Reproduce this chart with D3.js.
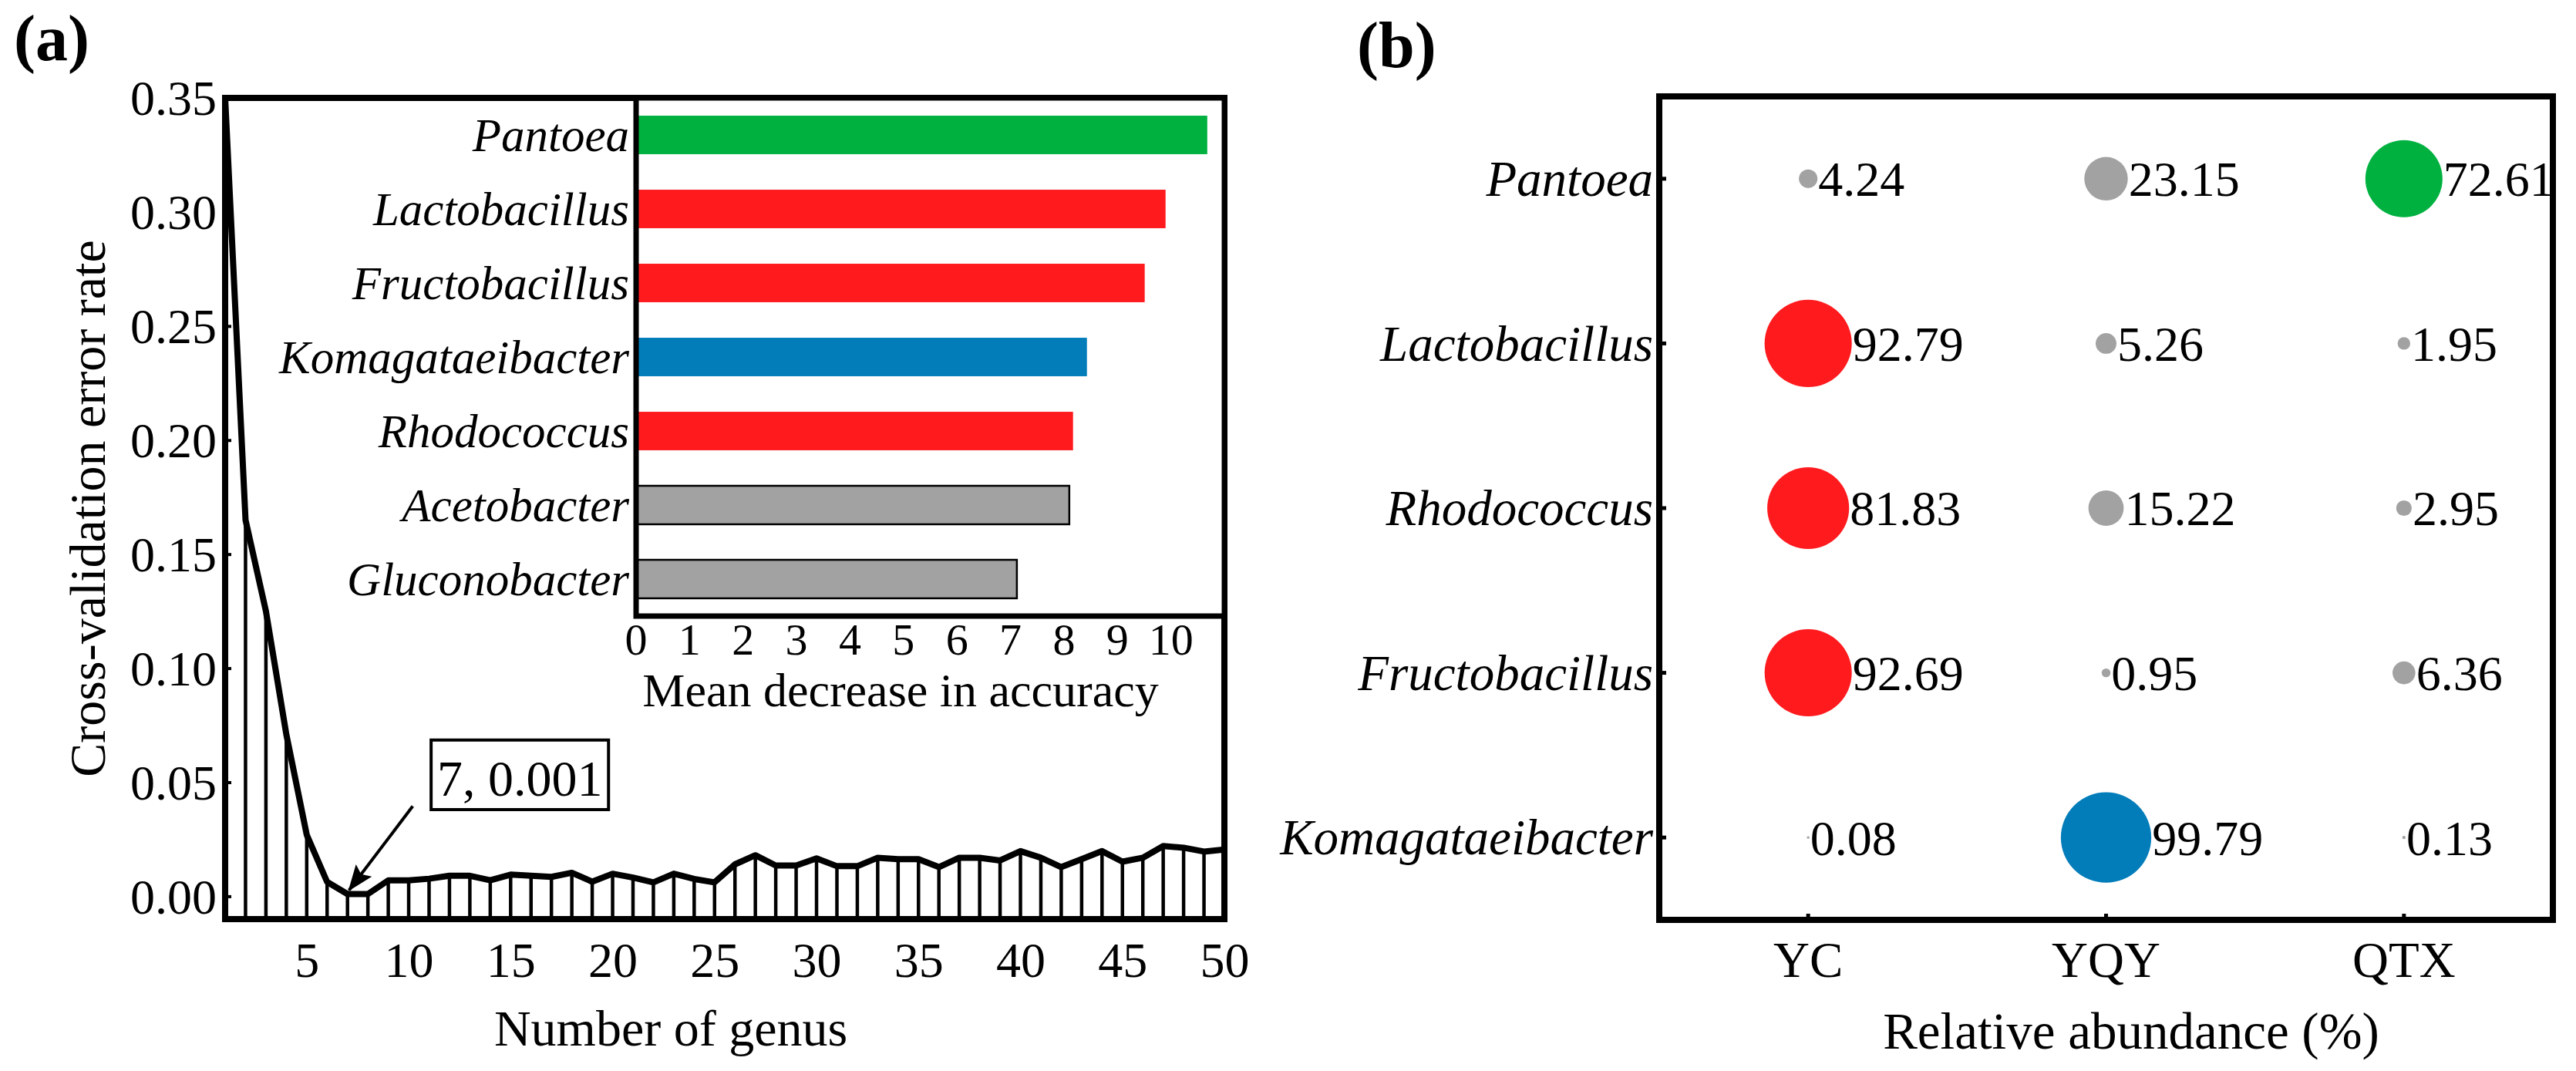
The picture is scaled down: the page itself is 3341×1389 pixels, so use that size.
<!DOCTYPE html>
<html>
<head>
<meta charset="utf-8">
<script src="https://cdn.jsdelivr.net/npm/d3@7"></script>
<style>
body{margin:0;background:#fff}
text{font-family:"Liberation Serif","Times New Roman",serif;fill:#000}
</style>
</head>
<body>
<div id="chart"></div>
<script>
// ---- data ----
// (a) cross-validation error for 1..50 genera
var errorRate = [0.350, 0.165, 0.125, 0.071, 0.027, 0.0063, 0.001, 0.001, 0.007, 0.007,
                 0.0077, 0.009, 0.009, 0.007, 0.0095, 0.009, 0.0085, 0.0103, 0.0064, 0.0099,
                 0.0082, 0.0061, 0.0099, 0.0076, 0.0061, 0.014, 0.018, 0.0135, 0.0135, 0.0166,
                 0.0132, 0.0132, 0.0169, 0.0163, 0.0163, 0.0128, 0.0169, 0.0169, 0.0157, 0.0198,
                 0.0169, 0.0128, 0.0163, 0.0198, 0.0152, 0.0169, 0.022, 0.0213, 0.0196, 0.0205]
var yTicks = [0, 0.05, 0.10, 0.15, 0.20, 0.25, 0.30, 0.35]
var xTicks = [5, 10, 15, 20, 25, 30, 35, 40, 45, 50]

// (a) inset: importance
var impGenus = ["Pantoea", "Lactobacillus", "Fructobacillus", "Komagataeibacter", "Rhodococcus", "Acetobacter", "Gluconobacter"]
var impValue = [10.68, 9.90, 9.51, 8.43, 8.17, 8.10, 7.12]
var impTicks = [0, 1, 2, 3, 4, 5, 6, 7, 8, 9, 10]

// (b) relative abundance
var sites = ["YC", "YQY", "QTX"]
var abGenus = ["Pantoea", "Lactobacillus", "Rhodococcus", "Fructobacillus", "Komagataeibacter"]
var abundYC  = [4.24, 92.79, 81.83, 92.69, 0.08]
var abundYQY = [23.15, 5.26, 15.22, 0.95, 99.79]
var abundQTX = [72.61, 1.95, 2.95, 6.36, 0.13]

var green = "#00b140", red = "#ff1a1e", blue = "#037dba", gray = "#a2a2a2"
var genusColor = {Pantoea: green, Lactobacillus: red, Fructobacillus: red, Rhodococcus: red,
                  Komagataeibacter: blue, Acetobacter: gray, Gluconobacter: gray}

// ---- layout ----
var W = 3341, H = 1389
var pa = {left: 292, right: 1588, top: 127, bottom: 1192}
var inset = {left: 825, right: 1588, top: 127, bottom: 799}
var pb = {left: 2152, right: 3311, top: 125, bottom: 1193}

var svg = d3.select("#chart").append("svg")
    .attr("width", W)
    .attr("height", H)
svg.append("rect").attr("width", W).attr("height", H).attr("fill", "#fff")

// ================= panel (a) =================
var x = d3.scaleLinear().domain([1, 50]).range([pa.left, pa.right])
var y = d3.scaleLinear().domain([-0.01, 0.35]).range([pa.bottom, pa.top])

var pts = errorRate.map(function(v, i){ return {n: i + 1, v: v} })

var ga = svg.append("g")

// hatch lines
ga.append("g").selectAll("line")
    .data(pts)
    .enter().append("line")
    .attr("x1", d => x(d.n)).attr("x2", d => x(d.n))
    .attr("y1", d => y(d.v)).attr("y2", pa.bottom)
    .attr("stroke", "#000").attr("stroke-width", 4.5)

ga.append("path")
    .datum(pts)
    .attr("d", d3.line().x(d => x(d.n)).y(d => y(d.v)))
    .attr("fill", "none")
    .attr("stroke", "#000")
    .attr("stroke-width", 8)
    .attr("stroke-linejoin", "round")

// y axis
var yAxis = ga.append("g")
    .attr("transform", "translate(" + pa.left + ",0)")
    .call(d3.axisLeft(y).tickValues(yTicks).tickFormat(d3.format(".2f")).tickSize(-8).tickPadding(11))
yAxis.select(".domain").remove()
yAxis.selectAll("line").attr("stroke-width", 4)
yAxis.selectAll("text").style("font-size", "64px").attr("dy", "0.34em")

// x axis
var xAxis = ga.append("g")
    .attr("transform", "translate(0," + pa.bottom + ")")
    .call(d3.axisBottom(x).tickValues(xTicks).tickSize(0).tickPadding(30))
xAxis.select(".domain").remove()
xAxis.selectAll("text").style("font-size", "64px")

// frame
ga.append("rect")
    .attr("x", pa.left).attr("y", pa.top)
    .attr("width", pa.right - pa.left).attr("height", pa.bottom - pa.top)
    .attr("fill", "none").attr("stroke", "#000").attr("stroke-width", 8)

// axis titles
ga.append("text")
    .attr("transform", "translate(136," + ((pa.top + pa.bottom) / 2) + ") rotate(-90)")
    .attr("text-anchor", "middle")
    .style("font-size", "66px")
    .text("Cross-validation error rate")
ga.append("text")
    .attr("x", 870).attr("y", 1356)
    .attr("text-anchor", "middle")
    .style("font-size", "66px")
    .text("Number of genus")

// annotation
var boxL = x(11.1), boxR = x(19.8), boxT = y(0.0685), boxB = y(0.038)
ga.append("rect")
    .attr("x", boxL).attr("y", boxT)
    .attr("width", boxR - boxL).attr("height", boxB - boxT)
    .attr("fill", "#fff").attr("stroke", "#000").attr("stroke-width", 4)
ga.append("text")
    .attr("x", (boxL + boxR) / 2).attr("y", boxB - 18)
    .attr("text-anchor", "middle")
    .style("font-size", "66px")
    .text("7, 0.001")

svg.append("defs").append("marker")
    .attr("id", "arrow")
    .attr("markerUnits", "userSpaceOnUse")
    .attr("markerWidth", 34).attr("markerHeight", 26)
    .attr("refX", 32).attr("refY", 13)
    .attr("orient", "auto")
    .append("path")
    .attr("d", "M0,0 L34,13 L0,26 L6,13 Z")
    .attr("fill", "#000")
ga.append("line")
    .attr("x1", x(10.2)).attr("y1", y(0.0395))
    .attr("x2", x(7) + 2).attr("y2", y(0.001) - 5)
    .attr("stroke", "#000").attr("stroke-width", 4)
    .attr("marker-end", "url(#arrow)")

// ---- inset bar chart ----
var ix = d3.scaleLinear().domain([0, 11]).range([inset.left, inset.right])
var iy = d3.scaleBand().domain(impGenus).range([inset.top, inset.bottom])
    .paddingInner(0.48).paddingOuter(0.24)

var gi = svg.append("g")
gi.append("rect")
    .attr("x", inset.left).attr("y", inset.top)
    .attr("width", inset.right - inset.left).attr("height", inset.bottom - inset.top)
    .attr("fill", "#fff")

gi.append("g").selectAll("rect")
    .data(impGenus)
    .enter().append("rect")
    .attr("x", ix(0))
    .attr("y", d => iy(d))
    .attr("width", (d, i) => ix(impValue[i]) - ix(0))
    .attr("height", iy.bandwidth())
    .attr("fill", d => genusColor[d])
    .attr("stroke", d => genusColor[d] == gray ? "#000" : "none")
    .attr("stroke-width", 2.5)

gi.append("rect")
    .attr("x", inset.left).attr("y", inset.top)
    .attr("width", inset.right - inset.left).attr("height", inset.bottom - inset.top)
    .attr("fill", "none").attr("stroke", "#000").attr("stroke-width", 7)

gi.append("g").selectAll("text")
    .data(impGenus)
    .enter().append("text")
    .attr("x", inset.left - 9)
    .attr("y", d => iy(d) + iy.bandwidth() / 2)
    .attr("dy", "0.34em")
    .attr("text-anchor", "end")
    .style("font-size", "61px")
    .style("font-style", "italic")
    .text(d => d)

gi.append("g").selectAll("text")
    .data(impTicks)
    .enter().append("text")
    .attr("x", d => ix(d))
    .attr("y", 849)
    .attr("text-anchor", "middle")
    .style("font-size", "58px")
    .text(d => d)

gi.append("text")
    .attr("x", 1168).attr("y", 916)
    .attr("text-anchor", "middle")
    .style("font-size", "62px")
    .text("Mean decrease in accuracy")

// panel letters
svg.append("text").attr("x", 18).attr("y", 78)
    .style("font-size", "84px").style("font-weight", "bold").text("(a)")
svg.append("text").attr("x", 1760).attr("y", 87)
    .style("font-size", "84px").style("font-weight", "bold").text("(b)")

// ================= panel (b) =================
var bx = d3.scalePoint().domain(sites).range([pb.left, pb.right]).padding(0.5)
var by = d3.scalePoint().domain(abGenus).range([pb.top, pb.bottom]).padding(0.5)
var rs = d3.scaleSqrt().domain([0, 100]).range([0, 58.7])

var abund = [abundYC, abundYQY, abundQTX]
var cells = []
abGenus.forEach(function(g, i){
    var row = abund.map(a => a[i])
    var mx = d3.max(row)
    sites.forEach(function(s, j){
        cells.push({genus: g, site: s, value: row[j], top: row[j] == mx})
    })
})

var gb = svg.append("g")

gb.append("g").selectAll("circle")
    .data(cells)
    .enter().append("circle")
    .attr("cx", d => bx(d.site))
    .attr("cy", d => by(d.genus))
    .attr("r", d => rs(d.value))
    .attr("fill", d => d.top ? genusColor[d.genus] : gray)

gb.append("g").selectAll("text")
    .data(cells)
    .enter().append("text")
    .attr("x", d => bx(d.site) + rs(d.value) + 1)
    .attr("y", d => by(d.genus))
    .attr("dy", "0.35em")
    .style("font-size", "64px")
    .text(d => d.value.toFixed(2))

// ticks
gb.append("g").selectAll("line")
    .data(abGenus)
    .enter().append("line")
    .attr("x1", pb.left).attr("x2", pb.left + 9)
    .attr("y1", d => by(d)).attr("y2", d => by(d))
    .attr("stroke", "#000").attr("stroke-width", 5)
gb.append("g").selectAll("line")
    .data(sites)
    .enter().append("line")
    .attr("x1", d => bx(d)).attr("x2", d => bx(d))
    .attr("y1", pb.bottom).attr("y2", pb.bottom - 8)
    .attr("stroke", "#000").attr("stroke-width", 5)

gb.append("rect")
    .attr("x", pb.left).attr("y", pb.top)
    .attr("width", pb.right - pb.left).attr("height", pb.bottom - pb.top)
    .attr("fill", "none").attr("stroke", "#000").attr("stroke-width", 8)

gb.append("g").selectAll("text")
    .data(abGenus)
    .enter().append("text")
    .attr("x", pb.left - 8)
    .attr("y", d => by(d))
    .attr("dy", "0.34em")
    .attr("text-anchor", "end")
    .style("font-size", "65px")
    .style("font-style", "italic")
    .text(d => d)

gb.append("g").selectAll("text")
    .data(sites)
    .enter().append("text")
    .attr("x", d => bx(d))
    .attr("y", 1267)
    .attr("text-anchor", "middle")
    .style("font-size", "65px")
    .text(d => d)

gb.append("text")
    .attr("x", 2764).attr("y", 1360)
    .attr("text-anchor", "middle")
    .style("font-size", "67px")
    .text("Relative abundance (%)")
</script>
</body>
</html>
